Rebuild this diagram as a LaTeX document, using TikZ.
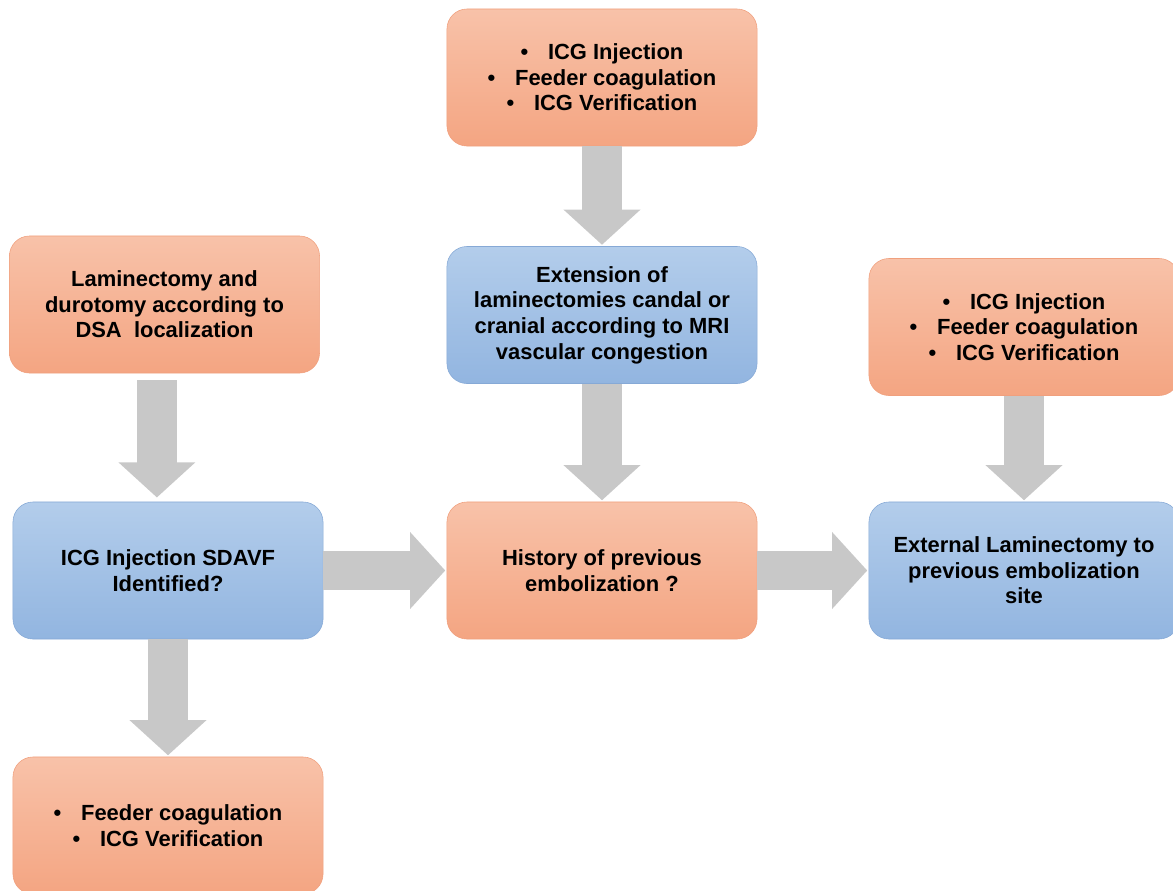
\documentclass[tikz,border=0pt]{standalone}
\usepackage{fontspec}
\setmainfont{Liberation Sans}
\usetikzlibrary{arrows.meta}

\definecolor{salmontop}{HTML}{F8C2A9}
\definecolor{salmonbot}{HTML}{F4A582}
\definecolor{salmonline}{HTML}{F0A07E}
\definecolor{skytop}{HTML}{B3CDEB}
\definecolor{skybot}{HTML}{92B5E0}
\definecolor{skyline}{HTML}{86A9D6}
\definecolor{arrowgray}{HTML}{C8C8C8}

\newcommand{\bulit}{\textbullet\hspace{0.9em}}

\begin{document}
\begin{tikzpicture}[
        x = 0.025cm, y = -0.025cm,
        every node/.style = {font = \fontsize{15.6pt}{18.2pt}\bfseries\selectfont, align = center},
        box/.style = {rounded corners = 0.5cm, minimum width = 7.75cm, minimum height = 3.425cm, inner sep = 0pt},
        orangebox/.style = {box, draw = salmonline, top color = salmontop, bottom color = salmonbot},
        bluebox/.style = {box, draw = skyline, top color = skytop, bottom color = skybot},
        blockarrow/.style = {draw = arrowgray, line width = 0.98cm, shorten > = 1pt,
            -{Triangle[width = 1.875cm, length = 0.88cm, color = arrowgray]}}
    ]

        \clip (0,0) rectangle (1173,890);

        \node[orangebox] (topsteps) at (602,77.5)
            {\bulit ICG Injection\\ \bulit Feeder coagulation\\ \bulit ICG Verification};
        \node[bluebox] (extension) at (602,315)
            {Extension of\\laminectomies candal or\\cranial according to MRI\\vascular congestion};
        \node[orangebox] (laminectomy) at (164.5,304.5)
            {Laminectomy and\\durotomy according to\\DSA\ \ localization};
        \node[bluebox] (identified) at (168,570.5)
            {ICG Injection SDAVF\\Identified?};
        \node[orangebox] (history) at (602,570.5)
            {History of previous\\embolization ?};
        \node[orangebox] (rightsteps) at (1024,327)
            {\bulit ICG Injection\\ \bulit Feeder coagulation\\ \bulit ICG Verification};
        \node[bluebox] (external) at (1024,570.5)
            {External Laminectomy to\\previous embolization\\site};
        \node[orangebox] (bottomsteps) at (168,825.5)
            {\bulit Feeder coagulation\\ \bulit ICG Verification};

        \coordinate (lamout) at ([xshift = -0.19cm, yshift = -5pt] laminectomy.south);

        \path
            (topsteps) edge[blockarrow] (extension)
            (extension) edge[blockarrow] (history)
            (lamout) edge[blockarrow, shorten > = 3pt] (lamout |- identified.north)
            (identified) edge[blockarrow] (history)
            (history) edge[blockarrow] (external)
            (rightsteps) edge[blockarrow] (external)
            (identified) edge[blockarrow] (bottomsteps);

    \end{tikzpicture}
\end{document}
